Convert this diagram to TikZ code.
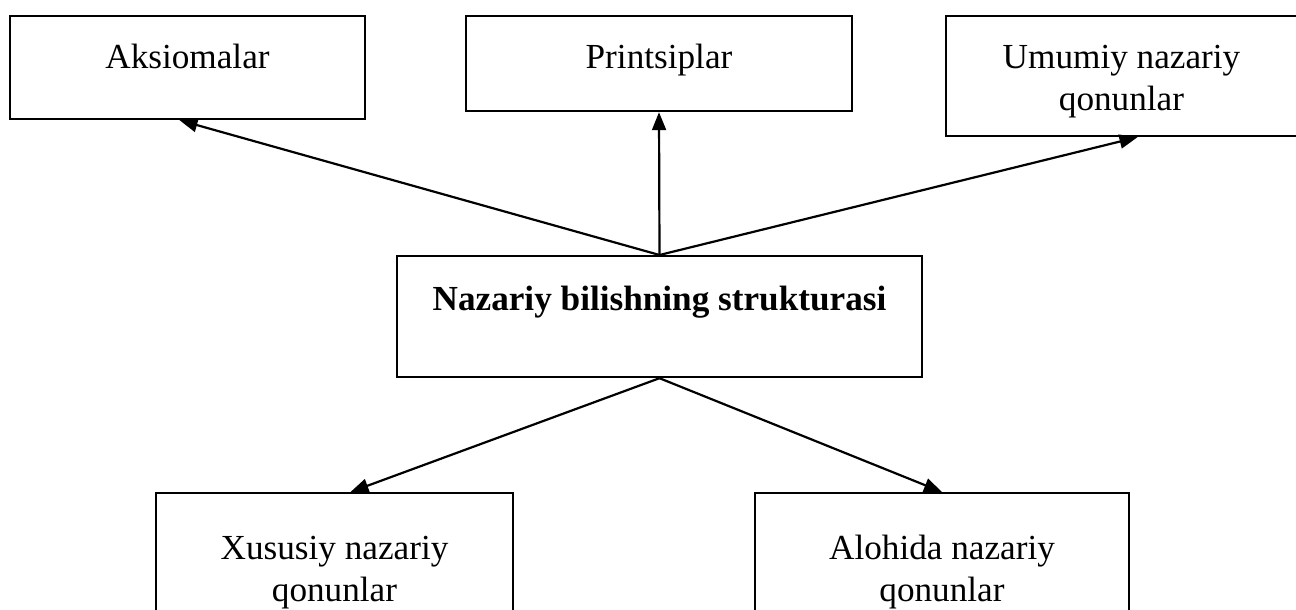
\documentclass[tikz,border=0pt]{standalone}
\usepackage{fontspec}
\setmainfont{Liberation Serif}
\usepackage{tikz}
\usetikzlibrary{arrows.meta,positioning,calc}
\newcommand{\twoline}[2]{\begin{tabular}[t]{@{}c@{}}#1\\#2\end{tabular}}

\begin{document}
\begin{tikzpicture}[
    x=0.5pt, y=-0.5pt,
    block/.style={rectangle, draw, line width=1.1pt, inner sep=0pt, anchor=north, font=\fontsize{17.6}{21}\selectfont},
    arrow/.style={-{Triangle[length=9pt,width=7pt]}, line width=1.1pt}
]
\useasboundingbox (0,0) rectangle (1296,610);

% top row
\node[block, minimum width=177.5pt, text height=26pt, text depth=25.5pt] (aks) at (187.5,15) {Aksiomalar};
\node[block, minimum width=193pt, text height=26pt, text depth=21.5pt] (prin) at (659,15) {Printsiplar};
\node[block, minimum width=175.5pt, text height=26pt, text depth=34pt] (umu) at (1121.5,15) {\twoline{Umumiy nazariy}{qonunlar}};

% centre
\node[block, minimum width=262.5pt, text height=27pt, text depth=33.5pt, font=\fontsize{17.6}{21}\selectfont\bfseries] (naz) at (659.5,255) {Nazariy bilishning strukturasi};

% bottom row
\node[block, minimum width=178.5pt, text height=33pt, text depth=31pt] (xus) at (334.5,492) {\twoline{Xususiy nazariy}{qonunlar}};
\node[block, minimum width=187pt, text height=33pt, text depth=31pt] (alo) at (942,492) {\twoline{Alohida nazariy}{qonunlar}};

\draw[arrow] (naz.north) -- ([xshift=-4pt]aks.south);
\draw[arrow] (naz.north) -- (prin.south);
\draw[arrow] (naz.north) -- ([xshift=8pt]umu.south);
\draw[arrow] (naz.south) -- ([xshift=8pt]xus.north);
\draw[arrow] (naz.south) -- (alo.north);
\end{tikzpicture}
\end{document}
